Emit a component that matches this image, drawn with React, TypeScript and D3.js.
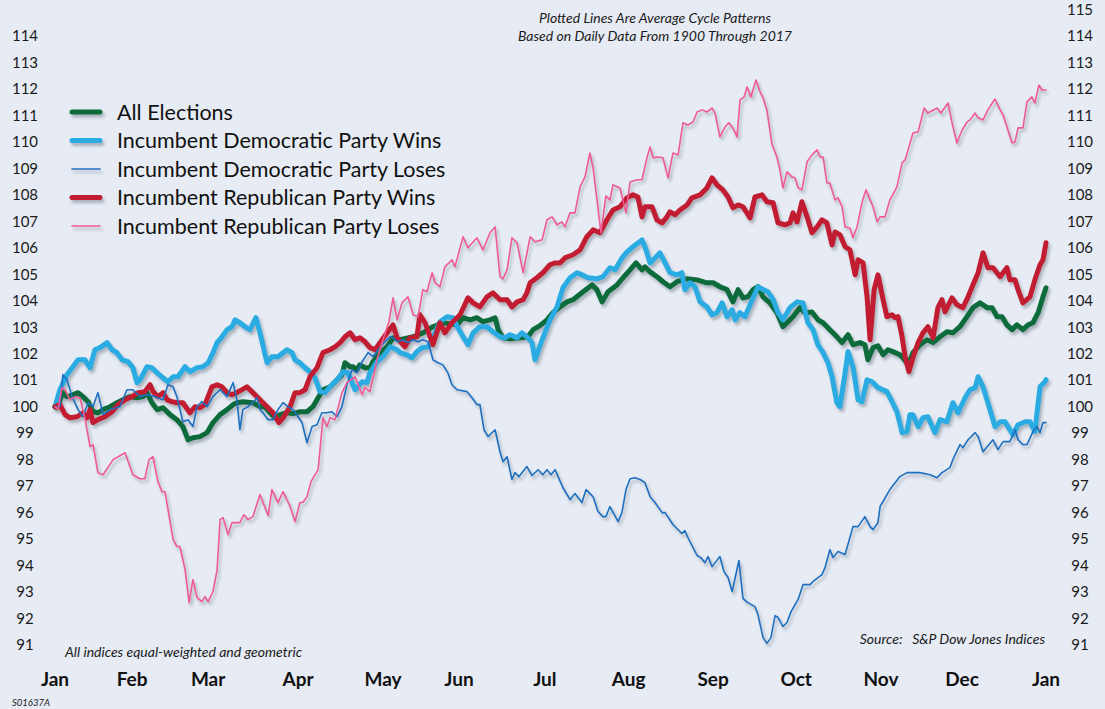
import React from "react"
import * as d3 from "d3"

// values: [day of year, index level] (Jan 1 = 100)
const allElections: [number, number][] = [
  [0, 100], [0.7, 99.96], [2.9, 100.53], [4.4, 100.38], [6.6, 100.45], [8.5, 100.53], [10.3, 100.38], [12.2, 100.19],
  [14.0, 99.81], [15.8, 99.77], [17.7, 99.89], [20.3, 100.0], [22.8, 100.15], [25.0, 100.26], [27.6, 100.38], [30.2, 100.34],
  [32.4, 100.38], [33.9, 100.53], [35.7, 100.15], [37.6, 99.89], [39.8, 99.96], [42.4, 99.7], [44.9, 99.51], [47.1, 99.25],
  [49.0, 98.75], [50.8, 98.83], [53.4, 98.87], [56.0, 99.02], [58.2, 99.4], [60.8, 99.7], [63.4, 99.89], [65.6, 100.08],
  [67.0, 100.15], [69.2, 100.19], [72.9, 100.15], [75.5, 100.0], [77.3, 100.0], [79.2, 99.77], [81.0, 99.58], [82.9, 99.7],
  [85.4, 99.77], [87.7, 99.74], [90.2, 99.81], [92.8, 99.81], [95.0, 100.0], [96.9, 100.34], [98.7, 100.64], [101.3, 100.75],
  [103.9, 101.02], [105.7, 101.21], [106.8, 101.66], [108.7, 101.51], [109.8, 101.51], [111.2, 101.4], [112.3, 101.58],
  [114.2, 101.47], [116.0, 101.47], [117.1, 101.7], [119.7, 102.04], [122.3, 102.26], [124.5, 102.6], [127.1, 102.53],
  [131.9, 102.64], [135.5, 102.79], [139.2, 103.02], [142.9, 103.17], [148.1, 103.09], [150.3, 103.36], [152.9, 103.28],
  [155.4, 103.36], [157.6, 103.21], [160.2, 103.28], [162.1, 103.36], [163.2, 102.91], [165.0, 102.6], [167.6, 102.57],
  [171.3, 102.6], [174.2, 102.64], [176.1, 102.91], [178.6, 103.06], [181.2, 103.28], [183.4, 103.55], [186.0, 103.77],
  [188.6, 103.96], [190.8, 104.04], [194.5, 104.34], [197.8, 104.6], [199.6, 104.42], [201.5, 103.96], [203.7, 104.34],
  [207.0, 104.6], [209.2, 104.87], [211.8, 105.17], [214.0, 105.43], [216.2, 105.17], [217.3, 105.28], [219.2, 105.09],
  [221.7, 104.91], [223.9, 104.72], [226.5, 104.53], [229.1, 104.72], [232.8, 104.83], [236.5, 104.79], [240.1, 104.68],
  [242.4, 104.68], [244.9, 104.53], [247.5, 104.42], [249.7, 103.96], [251.6, 104.42], [253.4, 104.11], [255.2, 104.15],
  [257.1, 104.42], [258.9, 104.53], [260.8, 104.15], [263.3, 103.92], [265.9, 103.55], [268.1, 103.02], [270.0, 103.21],
  [271.8, 103.4], [274.4, 103.74], [276.2, 103.55], [278.8, 103.58], [281.0, 103.28], [282.9, 103.17], [285.4, 102.91],
  [288.0, 102.64], [289.9, 102.42], [292.1, 102.72], [293.9, 102.34], [296.5, 102.42], [298.3, 102.34], [299.4, 101.77],
  [301.3, 102.23], [303.1, 102.3], [305.0, 101.96], [306.8, 102.15], [308.6, 102.08], [311.2, 101.96], [312.3, 101.85],
  [314.2, 101.58], [316.0, 102.04], [318.6, 102.34], [321.2, 102.53], [323.4, 102.42], [326.0, 102.64], [328.5, 102.83],
  [330.7, 102.79], [333.3, 103.02], [335.9, 103.4], [338.1, 103.74], [340.7, 103.92], [343.3, 103.74], [345.1, 103.74],
  [347.0, 103.4], [348.8, 103.4], [350.6, 103.09], [352.5, 102.91], [354.3, 103.09], [356.5, 102.91], [358.4, 103.09],
  [360.2, 103.17], [362.1, 103.55], [363.9, 104.15], [365, 104.49],
]

const demWins: [number, number][] = [
  [0, 100], [1.8, 100.64], [4.4, 101.21], [6.6, 101.51], [8.5, 101.77], [11.0, 101.77], [12.9, 101.47], [14.7, 102.15],
  [16.6, 102.23], [19.2, 102.42], [21.0, 102.15], [22.8, 102.04], [24.7, 101.77], [26.9, 101.7], [28.7, 101.47],
  [30.2, 100.91], [31.3, 101.02], [33.9, 101.51], [35.7, 101.47], [37.6, 101.28], [39.8, 101.09], [41.6, 100.94],
  [43.5, 101.13], [45.3, 101.13], [47.9, 101.51], [49.7, 101.32], [52.3, 101.47], [54.5, 101.51], [56.4, 101.66],
  [58.2, 102.04], [59.7, 102.42], [61.5, 102.64], [63.4, 102.91], [65.2, 103.02], [66.3, 103.28], [68.1, 103.17],
  [70.0, 103.02], [71.8, 102.91], [74.0, 103.36], [75.5, 102.79], [78.1, 101.66], [79.9, 101.89], [82.1, 101.89],
  [85.4, 102.15], [87.3, 102.04], [88.4, 101.77], [90.2, 101.66], [92.1, 101.47], [93.9, 101.32], [95.8, 101.09],
  [97.6, 100.57], [99.4, 100.53], [101.3, 100.75], [103.9, 101.02], [106.1, 101.32], [107.9, 101.28], [110.5, 100.64],
  [113.1, 100.94], [114.9, 100.91], [116.0, 101.28], [118.6, 101.7], [120.8, 101.89], [123.4, 102.26], [126.0, 102.15],
  [127.1, 102.04], [129.6, 101.96], [131.5, 101.85], [133.3, 102.08], [135.2, 102.23], [137.4, 102.26], [139.2, 102.6],
  [141.8, 103.21], [144.4, 103.4], [146.6, 103.36], [148.4, 102.98], [150.3, 102.64], [152.1, 102.34], [154.0, 102.79],
  [156.5, 103.02], [159.1, 103.02], [161.3, 102.83], [163.9, 102.64], [165.7, 102.6], [167.6, 102.72], [170.2, 102.6],
  [172.0, 102.79], [173.8, 102.64], [175.7, 102.42], [176.8, 101.77], [179.4, 102.53], [182.3, 103.28], [184.9, 103.77],
  [187.1, 104.49], [189.7, 104.87], [192.3, 105.06], [194.1, 104.98], [196.3, 104.87], [199.6, 104.83], [201.8, 104.91],
  [204.4, 105.25], [206.3, 105.17], [208.8, 105.62], [210.7, 105.85], [212.9, 106.04], [216.2, 106.3], [217.3, 106.04],
  [219.2, 105.43], [221.0, 105.62], [222.8, 105.81], [224.7, 105.43], [226.5, 105.06], [229.1, 104.98], [230.9, 105.06],
  [232.0, 104.42], [233.9, 104.68], [235.7, 104.53], [237.6, 103.96], [240.1, 103.77], [242.0, 103.47], [243.8, 103.55],
  [245.7, 103.92], [247.5, 103.4], [249.4, 103.66], [250.5, 103.28], [252.3, 103.55], [254.1, 103.4], [256.0, 103.85],
  [258.9, 104.53], [260.8, 104.42], [262.6, 104.34], [264.5, 104.04], [266.3, 103.55], [268.1, 103.28], [270.7, 103.74],
  [273.3, 103.96], [275.5, 103.92], [277.3, 103.17], [279.2, 102.91], [281.0, 102.34], [282.9, 102.04], [284.7, 101.66],
  [286.2, 101.13], [288.0, 100.15], [289.1, 100.0], [291.0, 101.28], [292.1, 102.08], [293.9, 101.51], [295.8, 100.26],
  [297.2, 100.19], [299.1, 101.02], [300.9, 100.94], [303.1, 100.72], [306.4, 100.57], [308.3, 100.19], [310.1, 99.81],
  [312.0, 99.02], [313.8, 99.06], [314.9, 99.7], [316.0, 99.7], [317.9, 99.25], [319.7, 99.58], [321.5, 99.62],
  [324.1, 99.02], [326.0, 99.51], [328.5, 99.43], [330.7, 100.15], [332.6, 99.77], [335.2, 100.34], [337.0, 100.64],
  [338.9, 100.72], [340.0, 101.13], [341.8, 100.75], [343.6, 100.15], [346.2, 99.25], [348.1, 99.43], [349.9, 99.43],
  [351.7, 99.13], [352.8, 98.94], [354.7, 99.32], [357.3, 99.43], [359.1, 99.43], [360.9, 99.06], [362.8, 100.75],
  [364.6, 100.94], [365, 101.02],
]

const demLoses: [number, number][] = [
  [0, 100], [1.8, 100.0], [2.9, 101.21], [4.4, 101.02], [6.3, 100.38], [8.5, 99.89], [10.3, 99.62], [12.2, 100.15],
  [14.0, 100.0], [15.8, 100.53], [17.7, 99.7], [20.3, 99.89], [23.9, 100.0], [26.5, 100.64], [28.7, 100.64], [31.3, 100.38],
  [33.9, 100.45], [36.8, 100.38], [39.8, 100.26], [41.6, 100.83], [43.5, 100.75], [44.9, 100.38], [47.1, 99.43],
  [49.0, 99.51], [50.8, 99.25], [52.3, 100.0], [54.1, 100.19], [56.0, 100.0], [58.2, 100.38], [60.8, 100.64],
  [63.4, 100.38], [65.6, 100.91], [67.0, 100.26], [68.1, 99.13], [69.2, 99.89], [71.1, 100.0], [72.9, 100.15],
  [74.4, 100.34], [75.5, 99.89], [76.6, 99.77], [78.5, 99.51], [80.3, 99.51], [82.1, 99.89], [84.0, 100.15], [85.8, 100.0],
  [87.7, 99.89], [89.5, 99.62], [91.0, 99.4], [92.8, 98.64], [94.7, 99.25], [96.5, 99.32], [98.3, 99.77], [100.2, 99.77],
  [102.0, 99.81], [103.9, 99.62], [105.7, 100.0], [107.5, 100.83], [109.4, 101.4], [111.2, 101.28], [113.1, 101.7],
  [115.3, 102.04], [117.1, 101.89], [119.0, 102.15], [121.5, 102.45], [123.4, 102.64], [124.5, 102.6], [126.3, 102.45],
  [128.2, 102.53], [130.0, 102.42], [131.9, 102.53], [133.7, 102.45], [135.5, 102.53], [137.4, 102.45], [139.2, 101.77],
  [141.1, 101.66], [142.9, 101.58], [144.7, 101.28], [146.2, 100.83], [148.1, 100.64], [151.7, 100.57], [153.6, 100.34],
  [155.4, 100.08], [156.5, 100.08], [158.0, 99.13], [159.5, 98.87], [162.1, 99.13], [163.9, 98.3], [165.0, 97.92],
  [166.5, 98.11], [168.3, 97.25], [169.4, 97.51], [170.9, 97.36], [173.8, 97.74], [175.7, 97.4], [177.9, 97.62],
  [179.7, 97.43], [181.2, 97.62], [182.7, 97.43], [184.2, 97.62], [185.3, 97.36], [187.1, 96.94], [189.7, 96.49],
  [191.5, 96.72], [194.1, 96.38], [195.6, 96.87], [198.2, 96.6], [200.0, 96.04], [201.8, 95.85], [202.9, 95.85],
  [204.4, 96.23], [207.4, 95.66], [208.8, 96.0], [210.3, 96.87], [211.8, 97.28], [213.6, 97.32], [215.5, 97.25],
  [217.3, 97.13], [219.2, 96.6], [221.0, 96.38], [223.6, 96.0], [224.7, 96.0], [227.6, 95.55], [230.9, 95.21],
  [232.0, 95.32], [233.1, 95.06], [236.5, 94.38], [237.9, 94.3], [239.4, 94.11], [240.5, 94.34], [242.0, 93.96],
  [244.9, 94.34], [246.4, 93.77], [247.9, 93.55], [249.4, 93.02], [251.9, 94.19], [253.4, 92.75], [255.2, 92.6],
  [257.8, 92.45], [258.9, 92.15], [260.8, 91.28], [262.2, 91.06], [263.7, 91.28], [265.2, 92.11], [266.3, 92.04],
  [268.1, 91.7], [269.6, 91.85], [271.1, 92.26], [272.6, 92.53], [273.7, 92.72], [275.5, 93.28], [278.1, 93.28],
  [279.2, 93.4], [282.5, 93.66], [283.6, 93.92], [285.4, 94.6], [286.6, 94.3], [288.4, 94.53], [291.0, 94.42],
  [293.9, 95.47], [295.8, 95.47], [298.3, 95.85], [300.2, 95.47], [301.3, 95.36], [303.1, 95.62], [303.9, 96.23],
  [307.5, 96.87], [311.2, 97.36], [313.8, 97.51], [318.6, 97.51], [322.3, 97.43], [324.9, 97.32], [326.7, 97.51],
  [329.6, 97.7], [330.7, 98.0], [333.3, 98.57], [334.4, 98.45], [336.3, 98.75], [338.9, 99.02], [340.0, 98.87],
  [341.8, 98.3], [343.3, 98.49], [345.5, 98.75], [347.3, 98.38], [349.2, 98.68], [351.7, 98.68], [353.6, 99.13],
  [354.7, 98.75], [356.5, 98.57], [358.0, 98.57], [360.2, 99.06], [361.7, 99.25], [362.8, 99.02], [363.9, 99.4],
  [365, 99.4],
]

const repWins: [number, number][] = [
  [0, 100], [1.8, 100.08], [3.7, 99.7], [5.5, 99.58], [8.1, 99.62], [10.3, 99.77], [11.8, 99.58], [12.9, 99.89],
  [14.0, 99.4], [15.8, 99.51], [18.4, 99.62], [21.0, 99.81], [23.2, 100.08], [25.8, 100.26], [28.4, 100.38],
  [30.6, 100.53], [33.1, 100.57], [35.0, 100.83], [36.1, 100.57], [37.9, 100.38], [39.8, 100.53], [41.3, 100.26],
  [43.1, 100.19], [44.9, 100.15], [47.1, 100.15], [49.7, 99.77], [51.6, 100.0], [53.4, 99.96], [55.2, 100.08],
  [57.8, 100.75], [59.7, 100.83], [61.5, 100.75], [63.4, 100.53], [65.2, 100.45], [67.0, 100.53], [70.7, 100.75],
  [72.9, 100.53], [75.5, 100.26], [78.1, 100.0], [80.3, 99.77], [82.5, 99.4], [84.0, 99.58], [86.6, 100.0],
  [88.4, 100.53], [90.2, 100.53], [92.1, 100.64], [93.9, 101.13], [96.5, 101.47], [98.7, 102.04], [101.3, 102.15],
  [103.1, 102.26], [105.0, 102.42], [106.8, 102.64], [108.7, 102.79], [110.5, 102.53], [112.3, 102.6], [114.2, 102.45],
  [116.0, 102.23], [117.9, 102.15], [119.7, 102.42], [122.3, 102.79], [124.5, 103.09], [126.0, 102.6], [128.9, 102.26],
  [130.8, 102.6], [133.3, 102.64], [134.4, 103.47], [136.3, 103.17], [139.2, 102.34], [141.8, 103.17], [143.6, 102.79],
  [146.2, 103.17], [149.2, 103.47], [152.1, 104.11], [154.0, 103.92], [156.5, 103.77], [159.1, 104.15], [161.3, 104.3],
  [163.9, 104.04], [166.5, 104.04], [168.3, 103.77], [170.2, 103.96], [172.4, 104.04], [173.8, 104.3], [175.0, 104.68],
  [177.5, 104.87], [179.7, 105.06], [182.3, 105.36], [184.2, 105.43], [186.0, 105.43], [187.8, 105.62], [190.8, 105.74],
  [193.4, 105.92], [195.9, 106.42], [198.2, 106.68], [200.7, 106.57], [203.3, 107.06], [205.5, 107.43], [208.1, 107.55],
  [210.7, 107.89], [212.9, 108.0], [214.7, 107.92], [216.2, 107.17], [217.3, 107.55], [219.9, 107.55], [221.7, 107.06],
  [223.6, 106.94], [225.4, 107.17], [226.5, 107.36], [228.4, 107.25], [230.2, 107.43], [232.8, 107.62], [234.6, 107.89],
  [237.6, 108.0], [240.1, 108.26], [242.0, 108.64], [243.8, 108.38], [246.0, 108.19], [247.9, 107.92], [249.7, 107.51],
  [251.6, 107.62], [253.4, 107.55], [256.0, 107.13], [257.8, 107.92], [260.4, 108.0], [262.2, 107.74], [264.5, 107.7],
  [266.3, 106.94], [268.9, 106.87], [270.7, 106.94], [271.8, 107.32], [273.3, 106.98], [275.1, 107.74], [277.0, 107.17],
  [278.8, 106.57], [280.7, 106.79], [282.5, 107.06], [284.3, 106.94], [286.2, 106.11], [287.3, 106.6], [289.1, 106.49],
  [291.0, 106.04], [292.8, 105.92], [294.7, 104.98], [295.8, 105.55], [297.6, 105.43], [299.1, 104.15], [300.2, 102.53],
  [301.7, 104.42], [303.1, 104.98], [305.0, 104.04], [306.4, 103.4], [308.3, 103.47], [309.4, 103.36], [310.5, 103.4],
  [312.0, 102.64], [313.1, 101.89], [314.5, 101.32], [316.0, 101.85], [317.9, 102.42], [319.7, 102.79], [321.5, 103.02],
  [323.4, 102.6], [325.2, 103.74], [326.7, 104.04], [327.8, 103.58], [330.4, 104.11], [332.2, 103.85], [334.4, 103.74],
  [336.3, 104.15], [338.1, 104.6], [340.0, 105.06], [341.8, 105.81], [343.6, 105.25], [345.5, 105.25], [348.1, 104.91],
  [350.6, 105.25], [351.7, 104.79], [353.6, 104.79], [354.7, 104.42], [356.5, 103.92], [359.1, 104.15], [360.9, 104.79],
  [362.8, 105.36], [363.9, 105.55], [365, 106.19],
]

const repLoses: [number, number][] = [
  [0, 100], [1.1, 99.89], [2.5, 100.72], [3.7, 100.64], [5.5, 100.26], [7.4, 100.38], [9.2, 100.34], [11.0, 99.58],
  [12.9, 98.49], [14.0, 98.57], [15.8, 97.51], [17.7, 97.43], [21.4, 98.0], [25.8, 98.26], [28.7, 97.43], [31.3, 97.28],
  [33.1, 97.28], [34.6, 98.0], [36.1, 98.11], [37.9, 97.17], [39.4, 96.79], [40.5, 96.79], [43.5, 94.98], [44.9, 94.72],
  [46.0, 94.72], [47.9, 93.85], [49.4, 92.6], [50.8, 93.47], [52.3, 92.79], [54.1, 92.64], [55.2, 92.83], [56.4, 92.64],
  [58.2, 93.02], [59.7, 93.85], [60.8, 95.74], [61.9, 95.81], [63.7, 95.17], [65.2, 95.62], [68.1, 95.62], [69.6, 95.92],
  [71.1, 95.74], [72.9, 95.85], [75.5, 96.68], [78.5, 95.89], [79.9, 96.87], [82.1, 96.38], [84.0, 96.79], [86.6, 96.23],
  [88.4, 95.66], [90.2, 96.38], [91.3, 96.38], [92.8, 96.6], [94.3, 97.17], [96.9, 97.62], [98.7, 99.58], [100.2, 99.25],
  [101.3, 99.58], [103.1, 99.51], [105.7, 100.53], [107.5, 100.91], [110.5, 101.13], [113.1, 100.45], [114.2, 100.72],
  [116.0, 100.57], [118.6, 101.77], [120.8, 102.53], [123.0, 103.21], [124.5, 104.11], [126.0, 103.28], [127.8, 103.92],
  [130.0, 104.15], [131.9, 103.47], [133.7, 103.4], [135.5, 104.42], [137.0, 104.34], [138.9, 105.06], [140.0, 104.68],
  [141.8, 104.53], [143.6, 105.28], [146.2, 105.55], [147.3, 105.28], [150.3, 106.42], [152.1, 106.0], [155.4, 106.38],
  [157.6, 105.92], [160.2, 106.57], [162.1, 106.79], [163.9, 104.91], [165.0, 104.83], [166.5, 105.17], [168.3, 106.38],
  [170.2, 106.19], [172.4, 105.06], [175.0, 106.42], [176.8, 106.23], [179.4, 106.3], [181.2, 107.06], [183.1, 107.17],
  [184.9, 106.87], [186.7, 106.98], [187.8, 106.79], [189.7, 107.32], [191.5, 107.32], [193.4, 108.3], [195.2, 108.68],
  [197.0, 109.58], [198.2, 109.02], [201.1, 106.57], [202.9, 107.96], [204.4, 107.81], [205.5, 108.38], [208.1, 108.26],
  [210.3, 107.32], [211.8, 108.49], [214.4, 108.57], [216.2, 108.57], [218.0, 109.4], [219.2, 109.81], [220.3, 109.4],
  [222.1, 109.43], [223.9, 109.4], [225.8, 108.64], [227.6, 109.58], [229.5, 109.51], [231.3, 110.72], [233.1, 110.64],
  [235.0, 110.75], [236.5, 111.13], [238.3, 111.21], [240.1, 111.13], [242.0, 111.28], [243.1, 111.09], [244.9, 110.19],
  [246.8, 110.57], [248.2, 110.72], [249.7, 110.53], [251.2, 110.19], [252.3, 111.58], [253.8, 111.7], [254.9, 112.08],
  [256.3, 111.7], [258.2, 112.34], [259.7, 111.89], [260.8, 111.66], [262.2, 111.2], [264.1, 109.9], [265.9, 109.43],
  [267.0, 108.94], [268.1, 108.26], [269.6, 108.87], [271.4, 108.68], [272.6, 108.64], [273.7, 108.26], [275.1, 108.19],
  [277.0, 109.25], [278.8, 109.51], [280.7, 109.7], [281.8, 109.43], [282.9, 109.43], [284.3, 108.45], [285.4, 108.45],
  [287.3, 107.81], [288.4, 107.89], [289.9, 107.55], [291.0, 106.79], [292.8, 106.75], [293.9, 106.38], [295.4, 106.79],
  [297.2, 107.7], [298.7, 108.19], [300.2, 107.81], [301.3, 107.55], [302.8, 106.98], [303.9, 107.17], [305.7, 107.17],
  [307.5, 107.81], [310.1, 108.3], [312.0, 109.21], [313.1, 109.32], [314.2, 109.7], [316.0, 110.34], [317.9, 110.38],
  [320.1, 111.28], [321.5, 111.09], [324.9, 111.28], [326.3, 111.09], [328.9, 111.47], [330.4, 110.72], [332.2, 109.96],
  [334.1, 110.45], [335.9, 110.75], [337.0, 110.83], [338.9, 111.09], [340.0, 110.91], [341.8, 110.83], [343.6, 111.21],
  [346.2, 111.62], [348.1, 111.21], [349.2, 111.02], [352.5, 109.96], [353.6, 110.0], [354.7, 110.53], [356.5, 110.53],
  [358.0, 111.51], [359.8, 111.7], [360.9, 111.47], [362.4, 112.15], [363.5, 111.96], [365, 111.96],
]

const monthLabels = ["Jan", "Feb", "Mar", "Apr", "May", "Jun", "Jul", "Aug", "Sep", "Oct", "Nov", "Dec", "Jan"]
// label centres as placed in the reference (day of year)
const monthLabelDays = [0, 28.4, 56.4, 89.5, 120.8, 148.8, 180.4, 211.3, 242.4, 273, 304.2, 334.1, 365]
const leftTicks = d3.range(91, 115)
const rightTicks = d3.range(91, 116)

const seriesOrder = [
  { name: "All Elections", data: allElections, color: "#0a6b3a", width: 5 },
  { name: "Incumbent Democratic Party Wins", data: demWins, color: "#29abe2", width: 5 },
  { name: "Incumbent Democratic Party Loses", data: demLoses, color: "#1f6fbf", width: 1.6 },
  { name: "Incumbent Republican Party Wins", data: repWins, color: "#c11f30", width: 5 },
  { name: "Incumbent Republican Party Loses", data: repLoses, color: "#ef5b93", width: 1.6 },
]

const font = "Lato, 'Open Sans', sans-serif"

export default function App() {
  const W = 1105
  const H = 709
  const x = d3.scaleLinear().domain([0, 365]).range([55, 1046])
  const y = d3.scaleLinear().domain([91, 114]).range([645, 36])

  const line = d3
    .line<[number, number]>()
    .x((d) => x(d[0]))
    .y((d) => y(d[1]))
    .curve(d3.curveLinear)

  // draw order: thick lines first, thin lines on top
  const drawOrder = [0, 1, 3, 2, 4]

  return (
    <svg
      width={W}
      height={H}
      style={{ position: "absolute", left: 0, top: 0, display: "block", background: "#e6ebf4" }}
    >
      <defs>
        <filter id="shadow" filterUnits="userSpaceOnUse" x={0} y={0} width={W} height={H}>
          <feDropShadow dx="2" dy="3" stdDeviation="1.8" floodColor="#39404d" floodOpacity="0.35" />
        </filter>
      </defs>
      <rect x={0} y={0} width={W} height={H} fill="#e6ebf4" />

      {/* subtitle */}
      <g fontFamily={font} fontStyle="italic" fontSize={14} fill="#1a1a1a" textAnchor="middle">
        <text x={655} y={23}>Plotted Lines Are Average Cycle Patterns</text>
        <text x={655} y={41}>Based on Daily Data From 1900 Through 2017</text>
      </g>

      {/* y labels */}
      <g fontFamily={font} fontSize={15} fill="#1a1a1a" textAnchor="middle">
        {leftTicks.map((t) => (
          <text key={"l" + t} x={25} y={y(t)} dy="0.35em">
            {t}
          </text>
        ))}
        {rightTicks.map((t) => (
          <text key={"r" + t} x={1080} y={y(t)} dy="0.35em">
            {t}
          </text>
        ))}
      </g>

      {/* month labels */}
      <g fontFamily={font} fontSize={19} fontWeight="bold" fill="#111" textAnchor="middle">
        {monthLabels.map((m, i) => (
          <text key={i} x={x(monthLabelDays[i])} y={686}>
            {m}
          </text>
        ))}
      </g>

      {/* series */}
      <g filter="url(#shadow)" fill="none" strokeLinejoin="round" strokeLinecap="round">
        {drawOrder.map((i) => {
          const s = seriesOrder[i]
          return (
            <path key={s.name} d={line(s.data) || ""} stroke={s.color} strokeWidth={s.width} />
          )
        })}
      </g>

      {/* legend */}
      <g fontFamily={font} fontSize={21.5} fill="#111">
        {seriesOrder.map((s, i) => {
          const ly = 112 + i * 28.5
          return (
            <g key={s.name}>
              <line
                x1={72}
                x2={100}
                y1={ly}
                y2={ly}
                stroke={s.color}
                strokeWidth={s.width}
                strokeLinecap="round"
                filter="url(#shadow)"
              />
              <text x={117} y={ly} dy="0.35em">
                {s.name}
              </text>
            </g>
          )
        })}
      </g>

      {/* notes */}
      <g fontFamily={font} fontStyle="italic" fill="#1a1a1a">
        <text x={65} y={657} fontSize={14}>All indices equal-weighted and geometric</text>
        <text x={1045} y={644} fontSize={14} textAnchor="end" xmlSpace="preserve">
          Source:   S&amp;P Dow Jones Indices
        </text>
        <text x={12} y={706} fontSize={9.5}>S01637A</text>
      </g>
    </svg>
  )
}
